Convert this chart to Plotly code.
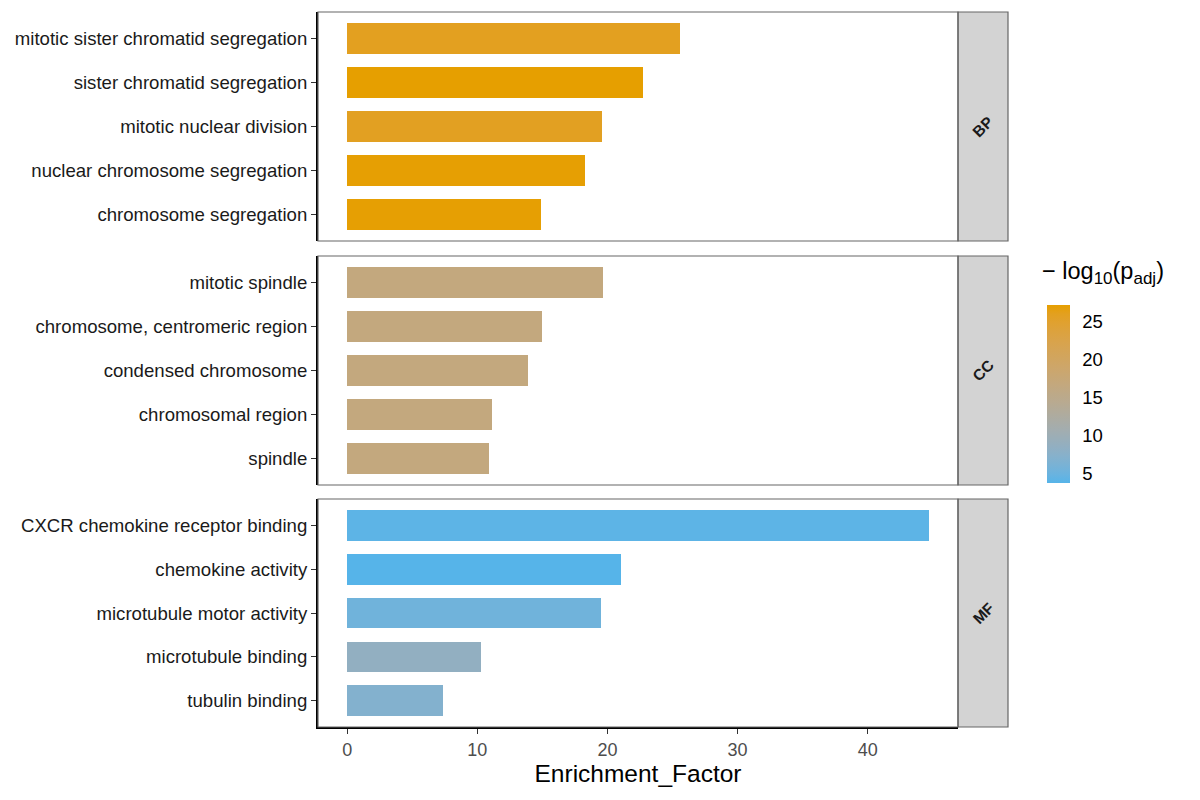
import plotly.graph_objects as go
import numpy as np

# ---- data ----
bp_terms = ["mitotic sister chromatid segregation", "sister chromatid segregation",
            "mitotic nuclear division", "nuclear chromosome segregation", "chromosome segregation"]
bp_ef = [25.56, 22.71, 19.55, 18.24, 14.93]
bp_logp = [25.9, 27.1, 25.7, 27.0, 27.0]

cc_terms = ["mitotic spindle", "chromosome, centromeric region", "condensed chromosome",
            "chromosomal region", "spindle"]
cc_ef = [19.63, 15.01, 13.93, 11.16, 10.93]
cc_logp = [16.6, 16.6, 16.6, 16.6, 16.6]

mf_terms = ["CXCR chemokine receptor binding", "chemokine activity", "microtubule motor activity",
            "microtubule binding", "tubulin binding"]
mf_ef = [44.7, 21.05, 19.5, 10.28, 7.37]
mf_logp = [4.2, 3.8, 5.4, 8.6, 7.0]

facets = ["BP", "CC", "MF"]
x_ticks = [0, 10, 20, 30, 40]
cb_ticks = [5, 10, 15, 20, 25]

# ---- Lab gradient (like ggplot scale_fill_gradient) ----
def hex2rgb(h):
    h = h.lstrip("#")
    return np.array([int(h[i:i + 2], 16) / 255 for i in (0, 2, 4)])

def srgb2lin(c):
    return np.where(c <= 0.04045, c / 12.92, ((c + 0.055) / 1.055) ** 2.4)

def lin2srgb(c):
    c = np.clip(c, 0, 1)
    return np.where(c <= 0.0031308, 12.92 * c, 1.055 * c ** (1 / 2.4) - 0.055)

M = np.array([[0.4124564, 0.3575761, 0.1804375],
              [0.2126729, 0.7151522, 0.0721750],
              [0.0193339, 0.1191920, 0.9503041]])
Minv = np.linalg.inv(M)
WP = np.array([0.95047, 1.0, 1.08883])

def f(t):
    d = 6 / 29
    return np.where(t > d ** 3, np.cbrt(t), t / (3 * d * d) + 4 / 29)

def finv(t):
    d = 6 / 29
    return np.where(t > d, t ** 3, 3 * d * d * (t - 4 / 29))

def rgb2lab(rgb):
    xyz = M @ srgb2lin(rgb) / WP
    fx, fy, fz = f(xyz)
    return np.array([116 * fy - 16, 500 * (fx - fy), 200 * (fy - fz)])

def lab2rgb(lab):
    L, a, b = lab
    fy = (L + 16) / 116
    fx = fy + a / 500
    fz = fy - b / 200
    xyz = np.array([finv(fx), finv(fy), finv(fz)]) * WP
    return lin2srgb(Minv @ xyz)

low, high = rgb2lab(hex2rgb("#56B4E9")), rgb2lab(hex2rgb("#E69F00"))
colorscale = []
for t in np.linspace(0, 1, 21):
    r, g, b = lab2rgb(low + (high - low) * t)
    colorscale.append([float(t), f"rgb({int(round(r*255))},{int(round(g*255))},{int(round(b*255))})"])

# ---- figure ----
W, H = 1200, 800
ml, mr, mt, mb = 318, W - 958, 12, H - 727
pw, ph = W - ml - mr, H - mt - mb

def py(pix):
    return (H - mb - pix) / ph

def px(pix):
    return (pix - ml) / pw

panels_pix = [(12, 241), (256, 485), (499, 727)]
data = [(bp_terms, bp_ef, bp_logp), (cc_terms, cc_ef, cc_logp), (mf_terms, mf_ef, mf_logp)]

fig = go.Figure()
FONT = "Liberation Sans, Arial, sans-serif"
xr = [-2.24, 46.94]

shapes = []
annotations = []
for i, ((terms, ef, lp), (top, bot)) in enumerate(zip(data, panels_pix)):
    n = i + 1
    xa = "x" if n == 1 else f"x{n}"
    ya = "y" if n == 1 else f"y{n}"
    fig.add_trace(go.Bar(
        x=ef, y=terms, orientation="h", width=0.7,
        marker=dict(color=lp, coloraxis="coloraxis", line=dict(width=0)),
        xaxis=xa, yaxis=ya, showlegend=False,
    ))
    dom = [py(bot), py(top)]
    yk = "yaxis" if n == 1 else f"yaxis{n}"
    xk = "xaxis" if n == 1 else f"xaxis{n}"
    fig.layout[yk] = dict(
        domain=dom, anchor=xa, type="category",
        categoryorder="array", categoryarray=list(reversed(terms)),
        range=[-0.6, 4.6], showgrid=False, zeroline=False,
        showline=True, linecolor="black", linewidth=2,
        ticks="outside", ticklen=5, tickcolor="#333333", tickwidth=1.2,
        tickfont=dict(family=FONT, size=18.6, color="#1A1A1A"),
        automargin=False, fixedrange=True,
    )
    last = n == 3
    fig.layout[xk] = dict(
        domain=[0, 1], anchor=ya, range=xr, showgrid=False, zeroline=False,
        showline=last, linecolor="black", linewidth=2,
        tickvals=x_ticks if last else [], showticklabels=last,
        ticks="outside" if last else "", ticklen=5, tickcolor="#333333", tickwidth=1.2,
        tickfont=dict(family=FONT, size=18, color="#4D4D4D"),
        title=dict(text="Enrichment_Factor" if last else "", standoff=6,
                   font=dict(family=FONT, size=24.5, color="black")),
        automargin=False, fixedrange=True,
        matches="x" if n > 1 else None,
    )
    # panel border
    shapes.append(dict(type="rect", xref="paper", yref="paper", x0=0, x1=1, y0=dom[0], y1=dom[1],
                       line=dict(color="#666666", width=1.2), fillcolor="rgba(0,0,0,0)", layer="above"))
    # strip
    shapes.append(dict(type="rect", xref="paper", yref="paper", x0=1, x1=px(1008), y0=dom[0], y1=dom[1],
                       line=dict(color="#666666", width=1.2), fillcolor="#D3D3D3", layer="below"))
    annotations.append(dict(xref="paper", yref="paper", x=px(983), y=(dom[0] + dom[1]) / 2,
                            xanchor="center", yanchor="middle",
                            text=f"<b>{facets[i]}</b>", showarrow=False, textangle=-45,
                            font=dict(family=FONT, size=15.5, color="#1A1A1A")))

annotations.append(dict(xref="paper", yref="paper", x=px(1040), y=py(273), xanchor="left", yanchor="middle",
                        text="−\u00a0log<sub><span style='font-size:17px'>10</span></sub>(p<sub><span style='font-size:17px'>adj</span></sub>)",
                        showarrow=False,
                        font=dict(family=FONT, size=23.5, color="black")))

fig.update_layout(
    width=W, height=H,
    margin=dict(l=ml, r=mr, t=mt, b=mb, pad=0),
    paper_bgcolor="white", plot_bgcolor="white",
    bargap=0,
    coloraxis=dict(
        colorscale=colorscale,
        colorbar=dict(
            x=px(1047), xanchor="left", xref="paper",
            y=py(394), yanchor="middle", yref="paper",
            thickness=23, thicknessmode="pixels", len=178, lenmode="pixels",
            outlinewidth=0, xpad=0, ypad=0,
            tickvals=cb_ticks, ticks="outside", ticklen=9, tickcolor="white", tickwidth=1,
            tickfont=dict(family=FONT, size=18.5, color="black"),
            title=dict(text=""),
        ),
    ),
    shapes=shapes, annotations=annotations,
)

fig.write_html("out.html", config={"displayModeBar": False},
               post_script="document.body.style.margin='0px';")
